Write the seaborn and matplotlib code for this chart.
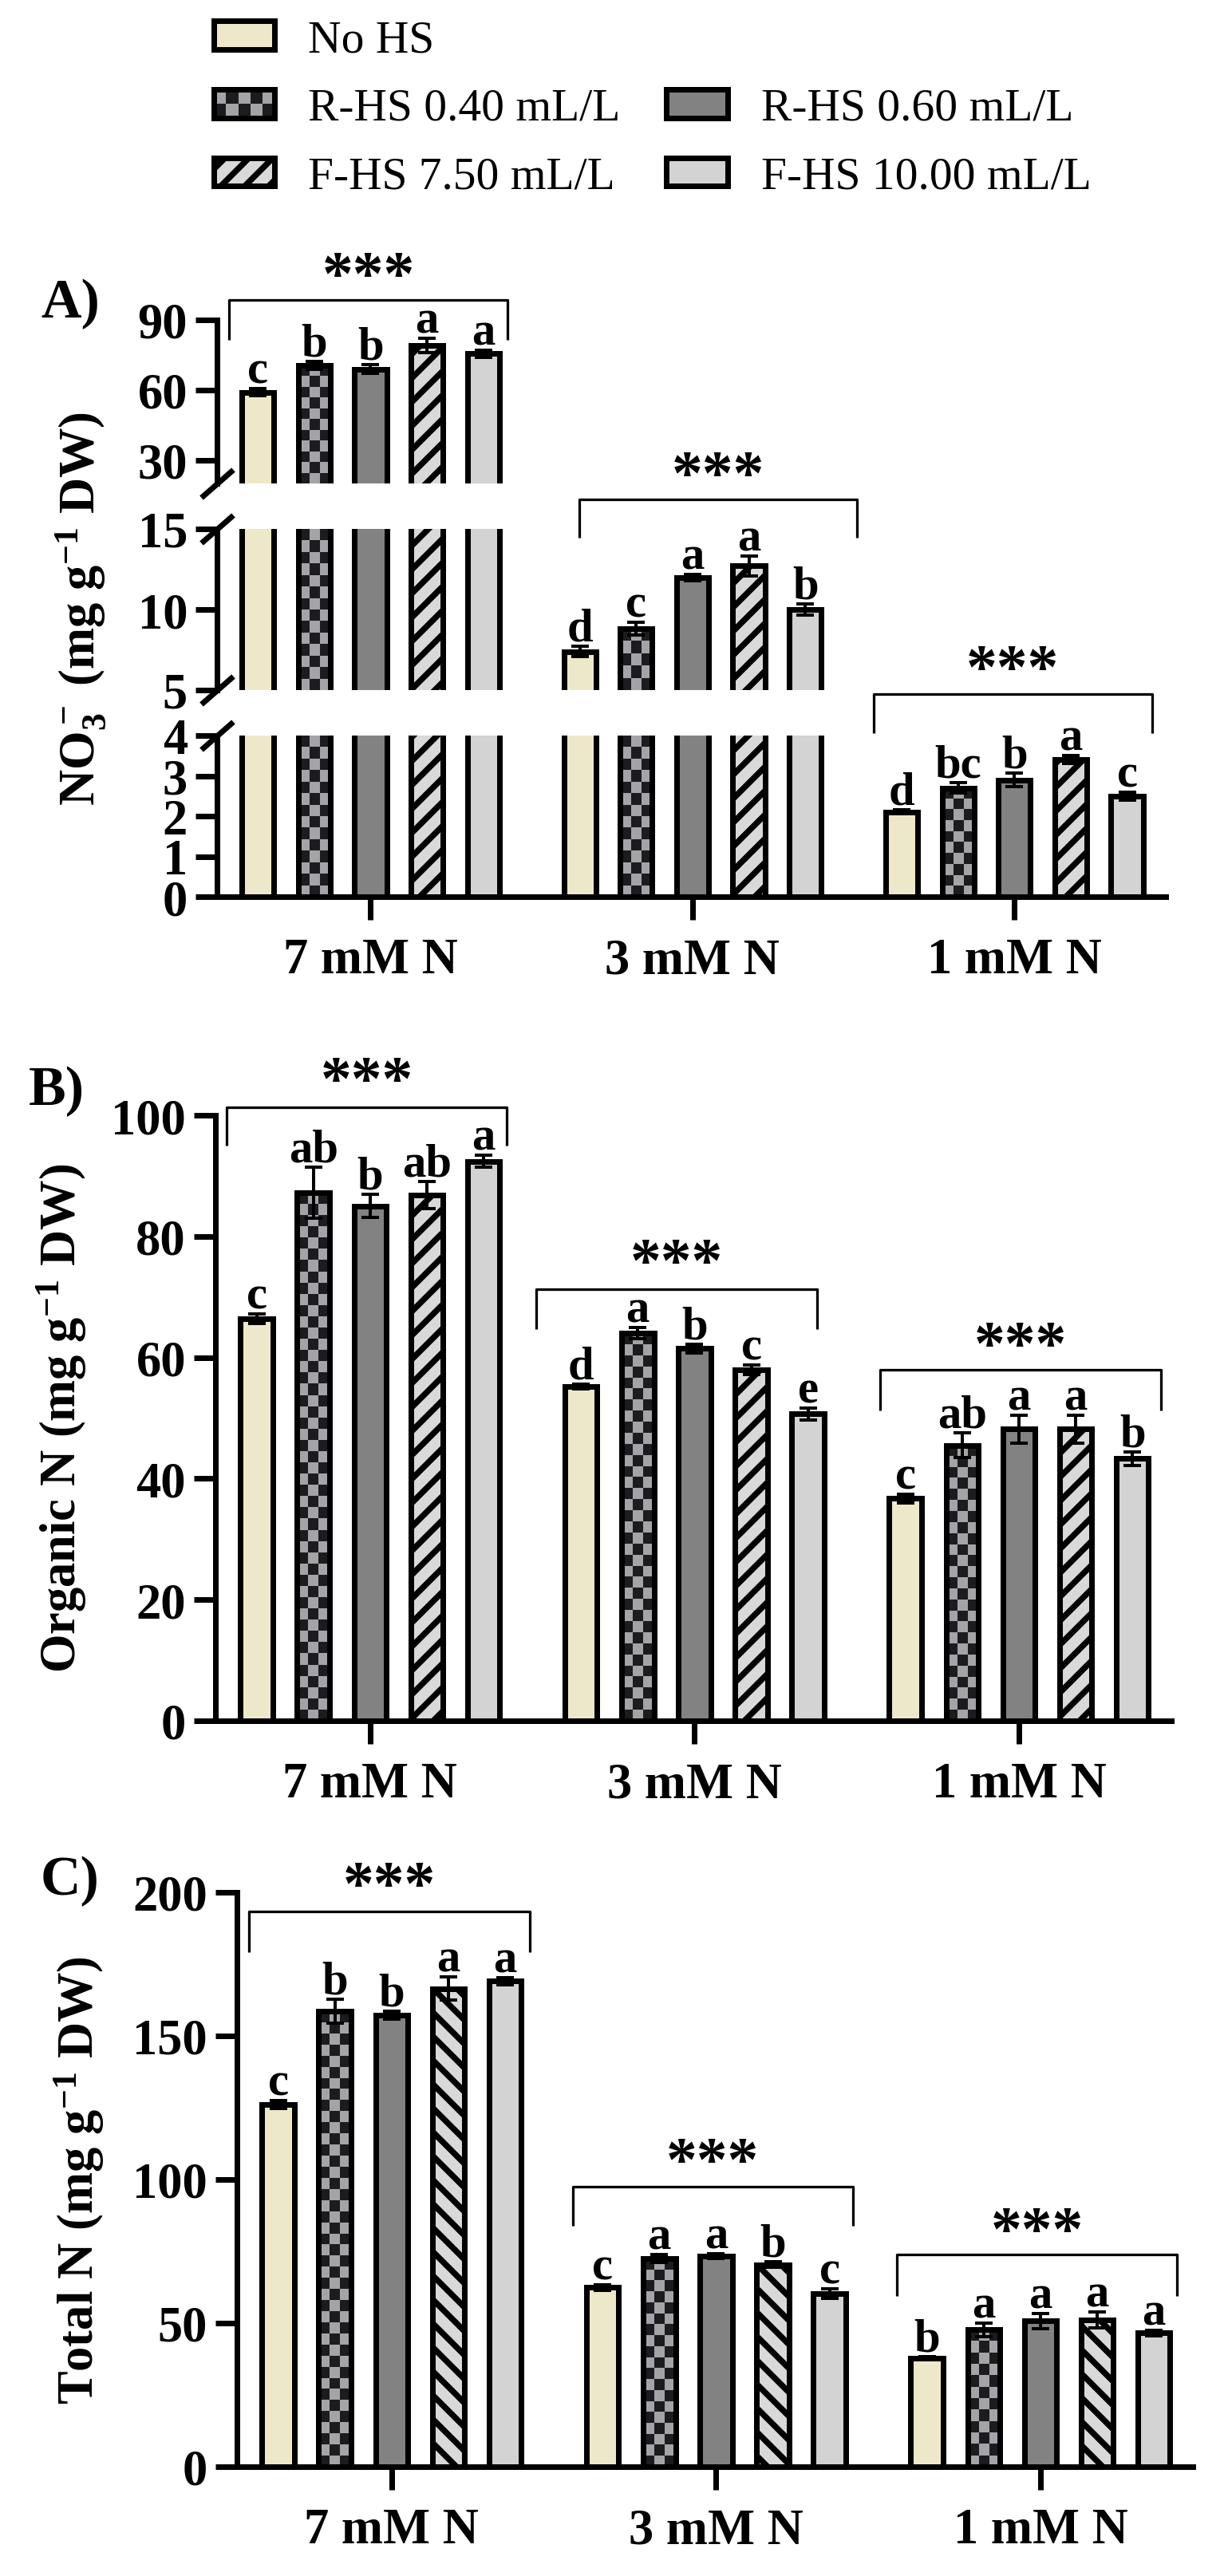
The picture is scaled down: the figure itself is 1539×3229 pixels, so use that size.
import numpy as np
import pandas as pd
import matplotlib
matplotlib.use('Agg')
import matplotlib.pyplot as plt
import seaborn as sns
from matplotlib.patches import Patch, Rectangle
from matplotlib.container import BarContainer
from matplotlib.legend_handler import HandlerBase
from matplotlib.colors import ListedColormap

# ---- data (mean, error, letters) rows = N level, cols = treatment ----
groups = ['7 mM N', '3 mM N', '1 mM N']
treatments = ['No HS', 'R-HS 0.40 mL/L', 'R-HS 0.60 mL/L', 'F-HS 7.50 mL/L', 'F-HS 10.00 mL/L']
colors = ['#EEE8CA', '#A4A4A8', '#828282', '#D9D9D9', '#D3D3D3']

no3_mean = [[59.0, 70.5, 69.0, 79.0, 75.5],
            [7.4, 8.8, 12.0, 12.7, 10.0],
            [2.1, 2.7, 2.9, 3.4, 2.5]]
no3_err = [[1.5, 1.7, 1.8, 3.0, 1.5],
           [0.3, 0.4, 0.2, 0.6, 0.35],
           [0.05, 0.13, 0.17, 0.1, 0.1]]
no3_letters = [['c', 'b', 'b', 'a', 'a'],
               ['d', 'c', 'a', 'a', 'b'],
               ['d', 'bc', 'b', 'a', 'c']]

orgn_mean = [[66.4, 87.2, 85.0, 86.8, 92.4],
             [55.2, 64.0, 61.5, 58.0, 50.7],
             [36.7, 45.5, 48.2, 48.2, 43.3]]
orgn_err = [[0.8, 4.2, 1.9, 2.2, 1.0],
            [0.4, 0.9, 0.7, 0.8, 1.0],
            [0.7, 2.0, 2.3, 2.3, 1.1]]
orgn_letters = [['c', 'ab', 'b', 'ab', 'a'],
                ['d', 'a', 'b', 'c', 'e'],
                ['c', 'ab', 'a', 'a', 'b']]

totn_mean = [[126.1, 158.6, 157.2, 166.5, 169.1],
             [62.4, 72.5, 73.4, 70.4, 60.3],
             [37.9, 47.7, 50.7, 51.2, 46.6]]
totn_err = [[1.4, 4.2, 1.5, 4.1, 1.2],
            [0.9, 1.4, 0.9, 1.0, 1.7],
            [0.5, 2.4, 2.6, 2.8, 1.0]]
totn_letters = [['c', 'b', 'b', 'a', 'a'],
                ['c', 'a', 'a', 'b', 'c'],
                ['b', 'a', 'a', 'a', 'a']]

# brackets: (group, x shift, leg bottom, line, star centre)
br_a = [(0, -0.007, 81.5, 98.5, 114.9), (1, 0.08, 14.46, 16.83, 19.16), (2, -0.005, 4.06, 5.03, 6.0)]
br_b = [(0, -0.01, 95.0, 101.3, 108.0), (1, -0.055, 64.7, 71.3, 77.9), (2, 0.005, 51.3, 58.0, 64.2)]
br_c = [(0, -0.007, 179.2, 193.3, 207.2), (1, -0.01, 83.9, 97.5, 111.1), (2, -0.01, 59.4, 73.9, 86.7)]

sns.set_theme(style='ticks')
sns.set_style('ticks', {'axes.edgecolor': 'black', 'xtick.color': 'black', 'ytick.color': 'black',
                        'text.color': 'black', 'axes.labelcolor': 'black'})
plt.rcParams['font.family'] = ['Liberation Serif', 'DejaVu Serif']
plt.rcParams['font.weight'] = 'bold'
plt.rcParams['mathtext.fontset'] = 'custom'
plt.rcParams['mathtext.rm'] = 'Liberation Serif:bold'
plt.rcParams['mathtext.it'] = 'Liberation Serif:bold'
plt.rcParams['mathtext.bf'] = 'Liberation Serif:bold'
plt.rcParams['mathtext.default'] = 'rm'
plt.rcParams['hatch.linewidth'] = 3.0
plt.rcParams['hatch.color'] = '#1E1E1E'

DPI = 180
W, H = 1539, 3230
fig = plt.figure(figsize=(W / DPI, H / DPI), dpi=DPI)

LW = 2.8
HATCH_LW = 3.0
CELL = 14
checker_cmap = ListedColormap(['#1C1C1E', '#A4A4A8'])
XLIM = (-0.477, 2.47)


def rect(x0, x1, y0, y1):
    return [x0 / W, 1 - y1 / H, (x1 - x0) / W, (y1 - y0) / H]


def long_df(mean):
    rows = []
    for gi, g in enumerate(groups):
        for ti, t in enumerate(treatments):
            rows.append({'group': g, 'treatment': t, 'value': mean[gi][ti]})
    return pd.DataFrame(rows)


def add_checker(ax, bars):
    y_lo, y_hi = ax.get_ylim()
    for bar in bars:
        x0 = bar.get_x()
        x1 = x0 + bar.get_width()
        top = min(bar.get_height(), y_hi)
        bot = max(0, y_lo)
        if top <= bot:
            continue
        (px0, py0), (px1, py1) = ax.transData.transform([(x0, bot), (x1, top)])
        nc = max(1, int(round((px1 - px0) / CELL)))
        nr = max(1, int(round((py1 - py0) / CELL)))
        grid = np.indices((nr, nc)).sum(axis=0) % 2
        ax.imshow(grid, extent=(x0, x1, bot, top), cmap=checker_cmap, aspect='auto',
                  interpolation='nearest', origin='upper', zorder=0.9)
        bar.set_facecolor('none')


def set_hatch(patch, hatch):
    patch.set_hatch(hatch)
    if hasattr(patch, 'set_hatch_linewidth'):
        patch.set_hatch_linewidth(HATCH_LW)


def draw_panel(ax, mean, err, letters, ylim, yticks, hatch, show_x=True):
    df = long_df(mean)
    sns.barplot(data=df, x='group', y='value', hue='treatment', order=groups,
                hue_order=treatments, palette=colors, saturation=1, width=0.875, gap=0.43,
                edgecolor='black', linewidth=LW, errorbar=None, legend=False, ax=ax)
    ax.set_xlim(*XLIM)
    ax.set_ylim(*ylim)
    ax.set_yticks(yticks)
    ax.set_xlabel('')
    ax.set_ylabel('')
    bar_conts = [c for c in ax.containers if isinstance(c, BarContainer)]
    for ti, cont in enumerate(bar_conts):
        for bar in cont:
            xc = bar.get_x() + bar.get_width() / 2
            gi = int(round(xc))
            m, e = mean[gi][ti], err[gi][ti]
            if ti == 3:
                set_hatch(bar, hatch)
            ax.errorbar(xc, m, yerr=e, fmt='none', ecolor='black', elinewidth=1.6,
                        capsize=4.6, capthick=1.6, zorder=5)
            if ylim[0] <= m <= ylim[1]:
                ax.annotate(letters[gi][ti], (xc, m + e), xytext=(0, 3), textcoords='offset points',
                            ha='center', va='baseline', fontsize=23.5, fontweight='bold',
                            annotation_clip=False)
    add_checker(ax, bar_conts[1])
    ax.set_xlim(*XLIM)
    ax.set_ylim(*ylim)
    sns.despine(ax=ax)
    for s in ['left', 'bottom']:
        ax.spines[s].set_linewidth(LW)
    ax.tick_params(axis='y', length=10.8, width=LW, pad=4, labelsize=25)
    ax.tick_params(axis='x', length=11.6, width=LW, pad=9, labelsize=25)
    if not show_x:
        ax.spines['bottom'].set_visible(False)
        ax.tick_params(axis='x', bottom=False, labelbottom=False)
    for lab in ax.get_xticklabels() + ax.get_yticklabels():
        lab.set_fontweight('bold')


def draw_bracket(ax, gi, shift, y_leg, y_line, y_star):
    xc = gi + shift
    x0, x1 = xc - 0.432, xc + 0.432
    ax.plot([x0, x0, x1, x1], [y_leg, y_line, y_line, y_leg], color='black', lw=1.3,
            clip_on=False, solid_capstyle='butt')
    ax.annotate('***', (xc, y_star), xytext=(0, -8), textcoords='offset points', ha='center',
                va='center', fontsize=31, fontweight='bold', annotation_clip=False)


def break_mark(ax, y):
    ax.plot([0], [y], transform=ax.transAxes, marker=[(-1, -0.875), (1, 0.875)],
            markersize=16, mew=LW, color='black', clip_on=False, linestyle='none')


# ---- panel A: broken axis ----
axa_top = fig.add_axes(rect(272, 1461, 402, 607))
axa_mid = fig.add_axes(rect(272, 1461, 664, 866))
axa_bot = fig.add_axes(rect(272, 1461, 923, 1125))
draw_panel(axa_top, no3_mean, no3_err, no3_letters, (20, 90), [30, 60, 90], '//', show_x=False)
draw_panel(axa_mid, no3_mean, no3_err, no3_letters, (5, 15), [5, 10, 15], '//', show_x=False)
draw_panel(axa_bot, no3_mean, no3_err, no3_letters, (0, 4), [0, 1, 2, 3, 4], '//')
break_mark(axa_top, 0)
break_mark(axa_mid, 1)
break_mark(axa_mid, 0)
break_mark(axa_bot, 1)
for ax, b in zip([axa_top, axa_mid, axa_bot], br_a):
    draw_bracket(ax, *b)

# ---- panel B ----
axb = fig.add_axes(rect(270, 1468, 1399, 2158))
draw_panel(axb, orgn_mean, orgn_err, orgn_letters, (0, 100), list(range(0, 101, 20)), '//')
for b in br_b:
    draw_bracket(axb, *b)

# ---- panel C ----
axc = fig.add_axes(rect(297, 1495, 2373, 3093))
draw_panel(axc, totn_mean, totn_err, totn_letters, (0, 200), list(range(0, 201, 50)), '\\\\')
for b in br_c:
    draw_bracket(axc, *b)

# ---- y labels and panel letters ----
fig.text(101 / W, 1 - 763 / H, 'NO$_3^-$ (mg g$^{-1}$ DW)', rotation=90, ha='center', va='center',
         fontsize=25, fontweight='bold')
fig.text(77 / W, 1 - 1778 / H, 'Organic N (mg g$^{-1}$ DW)', rotation=90, ha='center', va='center',
         fontsize=25, fontweight='bold')
fig.text(99 / W, 1 - 2733 / H, 'Total N (mg g$^{-1}$ DW)', rotation=90, ha='center', va='center',
         fontsize=25, fontweight='bold')
for lab, x, y in [('A)', 88, 381), ('B)', 71, 1368), ('C)', 88, 2358)]:
    fig.text(x / W, 1 - y / H, lab, ha='center', va='center', fontsize=28, fontweight='bold')


# ---- legend ----
class CheckerHandler(HandlerBase):
    def create_artists(self, legend, orig_handle, xdescent, ydescent, width, height, fontsize, trans):
        x0, y0 = -xdescent, -ydescent
        arts = [Rectangle((x0, y0), width, height, facecolor='#1C1C1E', edgecolor='none', transform=trans)]
        nc, nr = 5, 2
        cw, ch = width / nc, height / nr
        for i in range(nr):
            for j in range(nc):
                if (i + j) % 2 == 1:
                    arts.append(Rectangle((x0 + j * cw, y0 + i * ch), cw, ch, facecolor='#A4A4A8',
                                          edgecolor='none', transform=trans))
        arts.append(Rectangle((x0, y0), width, height, facecolor='none', edgecolor='black', lw=LW,
                              transform=trans))
        return arts


h_no = Patch(facecolor=colors[0], edgecolor='black', lw=LW, label=treatments[0])
h_r4 = Patch(facecolor=colors[1], edgecolor='black', lw=LW, label=treatments[1])
h_r6 = Patch(facecolor=colors[2], edgecolor='black', lw=LW, label=treatments[2])
h_f7 = Patch(facecolor=colors[3], edgecolor='black', lw=LW, label=treatments[3])
set_hatch(h_f7, '//')
h_f10 = Patch(facecolor=colors[4], edgecolor='black', lw=LW, label=treatments[4])
h_blank = Patch(visible=False, label='')
fig.legend(handles=[h_no, h_r4, h_f7, h_blank, h_r6, h_f10], ncol=2, loc='upper left',
           bbox_to_anchor=(268 / W, 1 - 25 / H), frameon=False, borderpad=0, borderaxespad=0,
           handlelength=1.33, handleheight=0.58, handletextpad=0.73, columnspacing=1.0,
           labelspacing=0.59, prop={'family': 'Liberation Serif', 'weight': 'normal', 'size': 23},
           handler_map={h_r4: CheckerHandler()})

fig.savefig('out.png', dpi=DPI)
